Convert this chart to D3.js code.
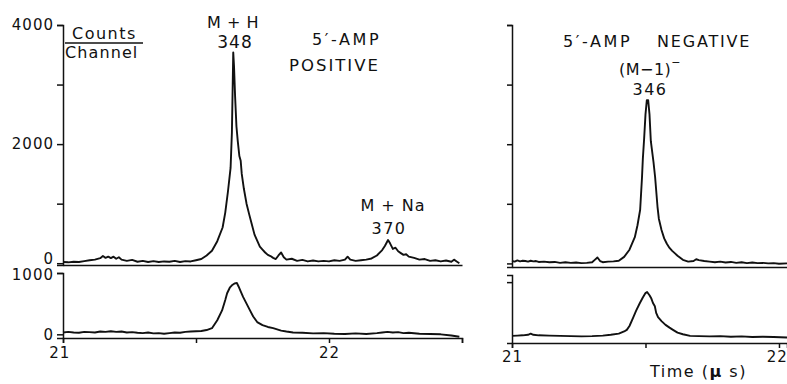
<!DOCTYPE html>
<html>
<head>
<meta charset="utf-8">
<script src="https://cdn.jsdelivr.net/npm/d3@7/dist/d3.min.js"></script>
<style>
  body { margin: 0; background: #fff; }
  svg text { font-family: "DejaVu Sans", sans-serif; fill: #111; }
  .axis path, .axis line { stroke: #111; stroke-width: 1.5; }
  .trace { fill: none; stroke: #111; stroke-width: 1.9; stroke-linejoin: round; }
</style>
</head>
<body>
<div class="spectrum"></div>
<script>
// [time of flight (us), counts per channel]
var positiveTop = [[21.00,20],[21.02,15],[21.04,25],[21.06,20],[21.08,35],[21.10,50],[21.12,60],[21.14,85],[21.15,120],[21.16,90],[21.17,110],[21.18,85],[21.19,110],[21.20,75],[21.21,100],[21.22,60],[21.24,40],[21.26,55],[21.28,25],[21.30,40],[21.32,20],[21.34,35],[21.36,20],[21.38,30],[21.40,25],[21.42,40],[21.44,20],[21.46,35],[21.48,30],[21.50,50],[21.52,70],[21.54,130],[21.56,210],[21.58,370],[21.60,600],[21.61,850],[21.62,1200],[21.63,1600],[21.635,2200],[21.638,3000],[21.64,3540],[21.643,3300],[21.647,2800],[21.652,2300],[21.657,2050],[21.663,1800],[21.668,1720],[21.672,1500],[21.68,1250],[21.69,1000],[21.70,820],[21.71,650],[21.72,480],[21.73,380],[21.74,280],[21.75,230],[21.76,180],[21.77,140],[21.78,120],[21.79,90],[21.80,70],[21.81,130],[21.82,180],[21.83,100],[21.84,60],[21.86,75],[21.88,40],[21.90,55],[21.92,30],[21.94,45],[21.96,30],[21.98,40],[22.00,30],[22.02,50],[22.04,40],[22.06,60],[22.07,110],[22.08,60],[22.10,40],[22.12,50],[22.14,60],[22.16,80],[22.18,130],[22.20,220],[22.21,290],[22.222,390],[22.23,330],[22.24,240],[22.25,260],[22.26,200],[22.27,170],[22.28,140],[22.29,150],[22.30,110],[22.32,90],[22.34,60],[22.36,70],[22.38,40],[22.40,50],[22.42,30],[22.44,45],[22.46,25],[22.47,60],[22.48,30],[22.49,0]];

var positiveBottom = [[21.00,30],[21.02,40],[21.04,30],[21.06,25],[21.08,40],[21.10,35],[21.12,30],[21.14,45],[21.16,40],[21.18,50],[21.20,40],[21.22,45],[21.24,30],[21.26,35],[21.28,25],[21.30,20],[21.32,30],[21.34,15],[21.36,20],[21.38,10],[21.40,20],[21.42,30],[21.44,25],[21.46,40],[21.48,45],[21.50,50],[21.52,55],[21.54,70],[21.56,100],[21.58,230],[21.598,390],[21.61,560],[21.617,670],[21.627,760],[21.635,800],[21.645,830],[21.654,836],[21.66,780],[21.668,700],[21.677,610],[21.69,500],[21.703,390],[21.715,290],[21.73,200],[21.75,150],[21.77,120],[21.79,100],[21.82,60],[21.84,45],[21.865,30],[21.90,25],[21.94,15],[21.98,20],[22.02,10],[22.06,5],[22.10,15],[22.14,5],[22.18,20],[22.20,30],[22.22,40],[22.24,30],[22.26,35],[22.28,20],[22.30,25],[22.34,10],[22.38,5],[22.42,0],[22.46,-20],[22.49,-40]];

var negativeTop = [[21.00,40],[21.01,30],[21.02,50],[21.03,35],[21.04,45],[21.05,40],[21.06,30],[21.07,45],[21.08,35],[21.09,40],[21.10,25],[21.12,30],[21.14,20],[21.16,25],[21.18,10],[21.20,20],[21.22,10],[21.24,15],[21.26,5],[21.28,10],[21.30,20],[21.31,60],[21.32,100],[21.33,40],[21.34,20],[21.36,30],[21.38,35],[21.40,45],[21.42,110],[21.44,230],[21.46,440],[21.47,640],[21.48,900],[21.487,1450],[21.49,1750],[21.495,2100],[21.50,2500],[21.505,2740],[21.51,2740],[21.515,2500],[21.52,2050],[21.53,1700],[21.536,1450],[21.545,950],[21.55,750],[21.56,560],[21.57,420],[21.58,330],[21.59,260],[21.60,210],[21.62,130],[21.64,60],[21.66,30],[21.68,40],[21.69,70],[21.70,55],[21.72,40],[21.74,30],[21.76,20],[21.78,30],[21.80,15],[21.82,25],[21.84,10],[21.86,20],[21.88,5],[21.90,15],[21.92,5],[21.94,10],[21.96,0],[21.98,5],[22.00,-5],[22.03,0]];

var negativeBottom = [[21.00,20],[21.02,25],[21.04,30],[21.06,40],[21.07,60],[21.08,40],[21.10,30],[21.14,25],[21.18,20],[21.22,15],[21.26,10],[21.30,15],[21.34,25],[21.37,40],[21.40,60],[21.42,100],[21.43,130],[21.44,200],[21.453,345],[21.465,480],[21.479,620],[21.49,720],[21.50,800],[21.506,820],[21.515,760],[21.522,700],[21.528,620],[21.535,560],[21.54,440],[21.547,360],[21.56,290],[21.575,220],[21.59,170],[21.603,130],[21.62,80],[21.64,50],[21.667,20],[21.70,15],[21.74,10],[21.78,15],[21.82,5],[21.86,10],[21.90,0],[21.94,5],[21.98,0],[22.03,-10]];

var topTicks = [0, 1000, 2000, 3000, 4000];
var bottomTicks = [0, 1000];
var posTimeTicks = [21, 21.5, 22, 22.5];
var negTimeTicks = [21, 21.5, 22];

var width = 787, height = 384;

var svg = d3.select("div.spectrum").append("svg")
    .attr("width", width)
    .attr("height", height);

// scales, left panel (positive ions)
var xPos = d3.scaleLinear().domain([21, 22.5]).range([63, 462]);
var yPosTop = d3.scaleLinear().domain([-30, 4000]).range([265, 25]);
var yPosBot = d3.scaleLinear().domain([-60, 1000]).range([338, 273]);

// scales, right panel (negative ions)
var xNeg = d3.scaleLinear().domain([21, 22.03]).range([512, 787]);
var yNegTop = d3.scaleLinear().domain([-60, 4000]).range([267, 25]);
var yNegBot = d3.scaleLinear().domain([-110, 1130]).range([343, 275]);

function styleAxis(g, size) {
    g.attr("class", "axis").attr("font-family", null).attr("font-size", null);
    g.selectAll("text").style("font-size", size + "px").style("letter-spacing", "1px");
}

// left y axes
svg.append("g")
    .attr("transform", "translate(" + xPos(21) + ",0)")
    .call(d3.axisLeft(yPosTop).tickValues(topTicks).tickSizeOuter(0).tickSize(6).tickPadding(3)
        .tickFormat(d => d % 2000 === 0 ? d : ""))
    .call(styleAxis, 15)
    .selectAll(".tick text").filter(d => d === 0).attr("dy", "0em");

svg.append("g")
    .attr("transform", "translate(" + xPos(21) + ",0)")
    .call(d3.axisLeft(yPosBot).tickValues(bottomTicks).tickSizeOuter(0).tickSize(6).tickPadding(3)
        .tickFormat(d => d))
    .call(styleAxis, 15)
    .selectAll(".tick text").filter(d => d === 1000).attr("dy", "0.45em");

// baseline under upper left trace
svg.append("g")
    .attr("transform", "translate(0," + yPosTop(-30) + ")")
    .call(d3.axisBottom(xPos).tickValues([]).tickSizeOuter(0))
    .call(styleAxis, 15);

// left time axis
svg.append("g")
    .attr("transform", "translate(0," + yPosBot(-60) + ")")
    .call(d3.axisBottom(xPos).tickValues(posTimeTicks).tickSizeOuter(0).tickSize(5).tickPadding(4)
        .tickFormat(d => Number.isInteger(d) ? d : ""))
    .call(styleAxis, 15)
    .selectAll(".tick text").filter(d => d === 21).attr("dx", "-0.25em");

// right y axes
svg.append("g")
    .attr("transform", "translate(" + xNeg(21) + ",0)")
    .call(d3.axisLeft(yNegTop).tickValues(topTicks).tickSizeOuter(0).tickSize(5).tickFormat(""))
    .call(styleAxis, 15);

svg.append("g")
    .attr("transform", "translate(" + xNeg(21) + ",0)")
    .call(d3.axisLeft(yNegBot).tickValues([1000]).tickSizeOuter(0).tickSize(5).tickFormat(""))
    .call(styleAxis, 15);

svg.append("g")
    .attr("transform", "translate(0," + yNegTop(-60) + ")")
    .call(d3.axisBottom(xNeg).tickValues([]).tickSizeOuter(0))
    .call(styleAxis, 15);

var negAxis = svg.append("g")
    .attr("transform", "translate(0," + yNegBot(-110) + ")")
    .call(d3.axisBottom(xNeg).tickValues(negTimeTicks).tickSizeOuter(0).tickSize(5).tickPadding(3)
        .tickFormat(d => Number.isInteger(d) ? d : ""))
    .call(styleAxis, 15);
// keep the last label inside the frame
negAxis.selectAll(".tick text").filter(d => d === 22).attr("text-anchor", "end").attr("dx", "0.55em");

// traces
var traces = [
    {data: positiveTop, x: xPos, y: yPosTop},
    {data: positiveBottom, x: xPos, y: yPosBot},
    {data: negativeTop, x: xNeg, y: yNegTop},
    {data: negativeBottom, x: xNeg, y: yNegBot}
];

traces.forEach(function (t) {
    var line = d3.line().x(d => t.x(d[0])).y(d => t.y(d[1]));
    svg.append("path")
        .attr("class", "trace")
        .attr("d", line(t.data));
});

// annotations
function label(text, x, y, size, spacing, anchor) {
    return svg.append("text")
        .attr("x", x).attr("y", y)
        .attr("text-anchor", anchor || "middle")
        .style("font-size", size + "px")
        .style("letter-spacing", spacing + "px")
        .text(text);
}

label("Counts", 72, 39, 16, 1.5, "start");
label("Channel", 65, 58, 16, 1.1, "start");
svg.append("line")
    .attr("x1", 65).attr("x2", 143)
    .attr("y1", 43).attr("y2", 43)
    .attr("stroke", "#111").attr("stroke-width", 1.5);

label("M + H", 233, 28, 16, 0.5);
label("348", 235, 48, 17, 1);
label("5\u2032-AMP", 312, 45, 16, 2.6, "start");
label("POSITIVE", 289, 71, 16.5, 2, "start");
label("M + Na", 393, 211, 16, 1);
label("370", 389, 234, 16, 1.5);

label("5\u2032-AMP", 563, 47, 16, 2.6, "start");
label("NEGATIVE", 657, 47, 16, 1.8, "start");
var ion = label("(M\u22121)", 650, 75, 16, 0.5);
ion.append("tspan").attr("dy", -9).style("font-size", "11px").text("\u2212");
label("346", 650, 95, 16, 1.5);

var time = label("Time (", 650, 377, 16, 1.5, "start");
time.append("tspan").style("font-weight", "bold").text("\u03bc");
time.append("tspan").text(" s)");
</script>
</body>
</html>
